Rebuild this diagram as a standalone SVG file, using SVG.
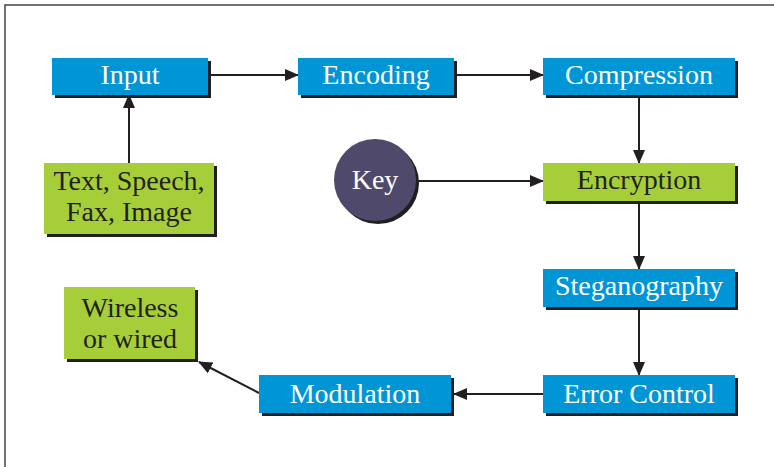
<svg xmlns="http://www.w3.org/2000/svg" width="774" height="467" viewBox="0 0 774 467">
<style>
.sh{fill:#231f20}
.blue{fill:#0096d6}
.green{fill:#a6ce39}
.t{font-family:"Liberation Serif","Times New Roman",serif;font-size:28px;text-anchor:middle}
.w{fill:#ffffff}
.d{fill:#231f20}
.ln{stroke:#231f20;stroke-width:2;fill:none}
</style>
<defs>
<marker id="ah" markerWidth="14" markerHeight="12" refX="13" refY="6" orient="auto" markerUnits="userSpaceOnUse">
<path d="M0,0 L14,6 L0,12 Z" fill="#231f20"/>
</marker>
</defs>
<rect width="774" height="467" fill="#ffffff"/>
<path d="M5,467 L5,5 L774,5" fill="none" stroke="#444444" stroke-width="1.5"/>
<g id="connectors">
<line class="ln" x1="211" y1="75" x2="298" y2="75" marker-end="url(#ah)"/>
<line class="ln" x1="457" y1="75" x2="543" y2="75" marker-end="url(#ah)"/>
<line class="ln" x1="129" y1="163" x2="129" y2="95" marker-end="url(#ah)"/>
<line class="ln" x1="639" y1="98" x2="639" y2="163" marker-end="url(#ah)"/>
<line class="ln" x1="418" y1="181" x2="543" y2="181" marker-end="url(#ah)"/>
<line class="ln" x1="639" y1="204" x2="639" y2="269" marker-end="url(#ah)"/>
<line class="ln" x1="639" y1="310" x2="639" y2="375" marker-end="url(#ah)"/>
<line class="ln" x1="543" y1="394" x2="454" y2="394" marker-end="url(#ah)"/>
<line class="ln" x1="259" y1="393" x2="199" y2="362" marker-end="url(#ah)"/>
</g>
<g id="input">
<rect class="sh" x="55" y="61" width="156" height="37"/>
<rect class="blue" x="52" y="58" width="156" height="37"/>
<text class="t w" x="130" y="84">Input</text>
</g>
<g id="encoding">
<rect class="sh" x="301" y="61" width="156" height="37"/>
<rect class="blue" x="298" y="58" width="156" height="37"/>
<text class="t w" x="376" y="84">Encoding</text>
</g>
<g id="compression">
<rect class="sh" x="546" y="61" width="192" height="37"/>
<rect class="blue" x="543" y="58" width="192" height="37"/>
<text class="t w" x="639" y="84">Compression</text>
</g>
<g id="source">
<rect class="sh" x="47" y="166" width="170" height="71"/>
<rect class="green" x="44" y="163" width="170" height="71"/>
<text class="t d" x="129" y="190">Text, Speech,</text>
<text class="t d" x="129" y="221">Fax, Image</text>
</g>
<g id="key">
<circle class="sh" cx="378" cy="183" r="41"/>
<circle cx="375" cy="180" r="41" fill="#4f4a6b"/>
<text class="t w" x="375" y="189">Key</text>
</g>
<g id="encryption">
<rect class="sh" x="546" y="166" width="192" height="38"/>
<rect class="green" x="543" y="163" width="192" height="38"/>
<text class="t d" x="639" y="189">Encryption</text>
</g>
<g id="steganography">
<rect class="sh" x="546" y="272" width="192" height="38"/>
<rect class="blue" x="543" y="269" width="192" height="38"/>
<text class="t w" x="639" y="295">Steganography</text>
</g>
<g id="errorcontrol">
<rect class="sh" x="546" y="378" width="192" height="38"/>
<rect class="blue" x="543" y="375" width="192" height="38"/>
<text class="t w" x="639" y="403">Error Control</text>
</g>
<g id="modulation">
<rect class="sh" x="262" y="378" width="192" height="38"/>
<rect class="blue" x="259" y="375" width="192" height="38"/>
<text class="t w" x="355" y="403">Modulation</text>
</g>
<g id="medium">
<rect class="sh" x="67" y="290" width="131" height="72"/>
<rect class="green" x="64" y="287" width="131" height="72"/>
<text class="t d" x="130" y="317">Wireless</text>
<text class="t d" x="130" y="348">or wired</text>
</g>
</svg>
